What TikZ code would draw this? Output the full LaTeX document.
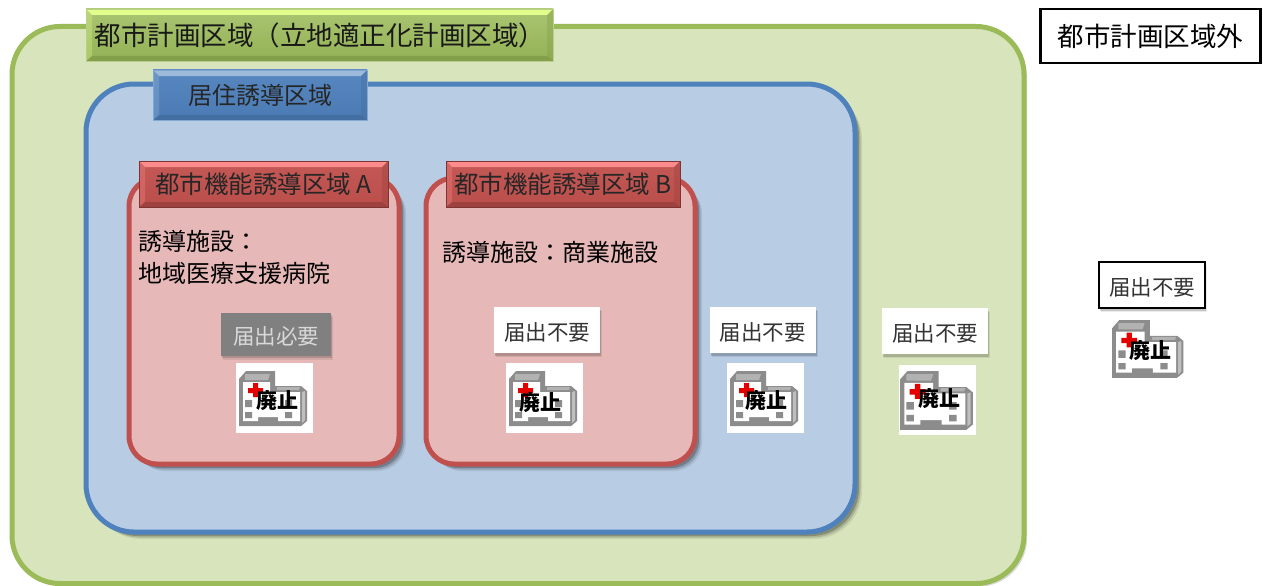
\documentclass[tikz,border=0pt]{standalone}
\usepackage{fontspec}
\usepackage{tikz}
\usetikzlibrary{shadows}
\setmainfont{Noto Sans CJK JP}

\definecolor{areagreen}{HTML}{D8E4BC}
\definecolor{linegreen}{HTML}{9BBB59}
\definecolor{areablue}{HTML}{B8CCE4}
\definecolor{lineblue}{HTML}{4F81BD}
\definecolor{areared}{HTML}{E6B8B7}
\definecolor{linered}{HTML}{C0504D}
\definecolor{icongray}{HTML}{8C8C8C}

\tikzset{
  softshadow/.style={
    drop shadow={shadow xshift=7pt, shadow yshift=-7pt, opacity=0.08, fill=black},
    drop shadow={shadow xshift=5.5pt, shadow yshift=-5.5pt, opacity=0.14, fill=black},
    drop shadow={shadow xshift=4pt, shadow yshift=-4pt, opacity=0.22, fill=black}},
  noteshadow/.style={
    drop shadow={shadow xshift=2pt, shadow yshift=-4pt, opacity=0.08, fill=black},
    drop shadow={shadow xshift=1pt, shadow yshift=-2.5pt, opacity=0.16, fill=black}},
  area/.style={draw=#1, rectangle, inner sep=0pt, line width=5pt},
  bevel/.style n args={2}{path picture={
      \fill[#1] (path picture bounding box.north west) -- (path picture bounding box.north east)
        -- ([shift={(-6pt,-6pt)}]path picture bounding box.north east)
        -- ([shift={(6pt,-6pt)}]path picture bounding box.north west) -- cycle;
      \fill[#2] (path picture bounding box.south west) -- (path picture bounding box.south east)
        -- ([shift={(-6pt,5pt)}]path picture bounding box.south east)
        -- ([shift={(6pt,5pt)}]path picture bounding box.south west) -- cycle;
      \fill[#1, opacity=0.3] (path picture bounding box.north west) -- (path picture bounding box.south west)
        -- ([shift={(6pt,5pt)}]path picture bounding box.south west)
        -- ([shift={(6pt,-6pt)}]path picture bounding box.north west) -- cycle;
      \fill[#2, opacity=0.4] (path picture bounding box.north east) -- (path picture bounding box.south east)
        -- ([shift={(-6pt,5pt)}]path picture bounding box.south east)
        -- ([shift={(-6pt,-6pt)}]path picture bounding box.north east) -- cycle;
    }},
  greentag/.style={draw=linegreen!70, rectangle, inner sep=0pt, text=black!90,
    top color=linegreen!85!white, bottom color=linegreen!95!black,
    bevel={green!25!yellow!45!white}{linegreen!85!black}},
  bluetag/.style={draw=lineblue!70, rectangle, inner sep=0pt, text=black!85,
    top color=lineblue!95!white, bottom color=lineblue!95!black,
    bevel={lineblue!55!white}{lineblue!85!black}},
  redtag/.style={draw=black!35!linered, rectangle, inner sep=0pt, text=black!85,
    top color=linered!95!white, bottom color=linered!97!black,
    bevel={red!45!white}{linered!82!black}},
  notebox/.style={rectangle, fill=white, inner sep=0pt, minimum width=106pt, minimum height=46pt,
    text height=23pt, text depth=2.5pt,
    font=\fontsize{21.5}{24}\selectfont, text=black!80, noteshadow},
  stopword/.style={inner sep=0pt, font=\fontsize{21}{21}\selectfont\bfseries},
  hospitalicon/.pic={
    \node[fill=white, inner sep=0pt, minimum width=77pt, minimum height=70pt] (-bg) at (35,27) {};
    \fill[icongray] (0,8) -- (7,0) -- (36,0) -- (36,15) -- (62,15) -- (68,20) -- (68,50) -- (62,55) -- (0,55) -- cycle;
    \fill[black!30] (6,3) -- (31,3) -- (29,9) -- (6,9) -- cycle (38,16) -- (61,16) -- (60,19) -- (38,19) -- cycle;
    \fill[white] (4,11) -- (31,11) -- (31,21) -- (61,21) -- (61,50) -- (39,50) -- (39,46) -- (19,46) -- (19,50) -- (4,50) -- cycle;
    \fill[black!25] (63,21) -- (66,20) -- (66,49) -- (63,52) -- cycle;
    \fill[icongray] (6,29) rectangle (13,36) (6,41) rectangle (13,47)
      (46,29) rectangle (53,36) (46,41) rectangle (53,47);
    \fill[red!90!black] (14,12) rectangle (19,26) (9,17) rectangle (24,22);
  }
}

\begin{document}
\begin{tikzpicture}[x=1pt, y=-1pt]
  \clip (0,0) rectangle (1263,586);

  \node[area=linegreen, fill=areagreen, rounded corners=48pt, minimum width=1012pt, minimum height=557pt, drop shadow={shadow xshift=3pt, shadow yshift=-3pt, opacity=0.15, fill=black}] (city) at (518,305) {};
  \node[area=lineblue, fill=areablue, rounded corners=48pt, minimum width=769pt, minimum height=448pt, softshadow] (living) at (470.5,308) {};
  \node[area=linered, fill=areared, rounded corners=28pt, minimum width=270pt, minimum height=286pt, softshadow] (zonea) at (264,321) {};
  \node[area=linered, fill=areared, rounded corners=28pt, minimum width=269pt, minimum height=286pt, softshadow] (zoneb) at (560.5,321) {};

  \node[greentag, minimum width=467pt, minimum height=52pt] (citytag) at (319.5,35) {\hspace*{1pt}\fontsize{26.5}{28}\selectfont 都市計画区域（立地適正化計画区域）};
  \node[bluetag, minimum width=214pt, minimum height=50pt, font=\fontsize{24}{26}\selectfont] (livingtag) at (260,95) {居住誘導区域};
  \node[redtag, minimum width=249pt, minimum height=46pt, font=\fontsize{24.5}{26}\selectfont] (zoneatag) at (263.5,184) {都市機能誘導区域 A};
  \node[redtag, minimum width=234pt, minimum height=46pt, font=\fontsize{24.5}{26}\selectfont] (zonebtag) at (563,184) {都市機能誘導区域 B};

  \node[draw=black, line width=2.5pt, fill=white, rectangle, inner sep=0pt, minimum width=220pt, minimum height=54pt, font=\fontsize{26.5}{28}\selectfont] (outside) at (1150.5,36) {都市計画区域外};

  \node[anchor=west, align=left, inner sep=0pt, font=\fontsize{24}{32}\selectfont] (facilitya) at (138,257) {誘導施設：\\地域医療支援病院};
  \node[anchor=west, inner sep=0pt, font=\fontsize{24}{26}\selectfont] (facilityb) at (442,252) {誘導施設：商業施設};

  \node[notebox, fill=black!50, text=black!15, minimum width=110pt, minimum height=43pt] (notea) at (276,334) {届出必要};
  \node[notebox] (noteb) at (547,330) {届出不要};
  \node[notebox] (notec) at (762.5,330) {届出不要};
  \node[notebox] (noted) at (935,331) {届出不要};
  \node[notebox, draw=black, line width=1.5pt] (notee) at (1152,285) {届出不要};

  \pic (icona) at (239,371) {hospitalicon};
  \pic (iconb) at (509,371) {hospitalicon};
  \pic (iconc) at (730,371) {hospitalicon};
  \pic[scale=1.07] (icond) at (900,371) {hospitalicon};
  \pic[scale=1.05] (icone) at (1112,320) {hospitalicon};

  \node[stopword] (stopa) at (277,401) {廃止};
  \node[stopword] (stopb) at (540,403) {廃止};
  \node[stopword] (stopc) at (766,401) {廃止};
  \node[stopword] (stopd) at (939,399) {廃止};
  \node[stopword] (stope) at (1150,351) {廃止};
\end{tikzpicture}
\end{document}
